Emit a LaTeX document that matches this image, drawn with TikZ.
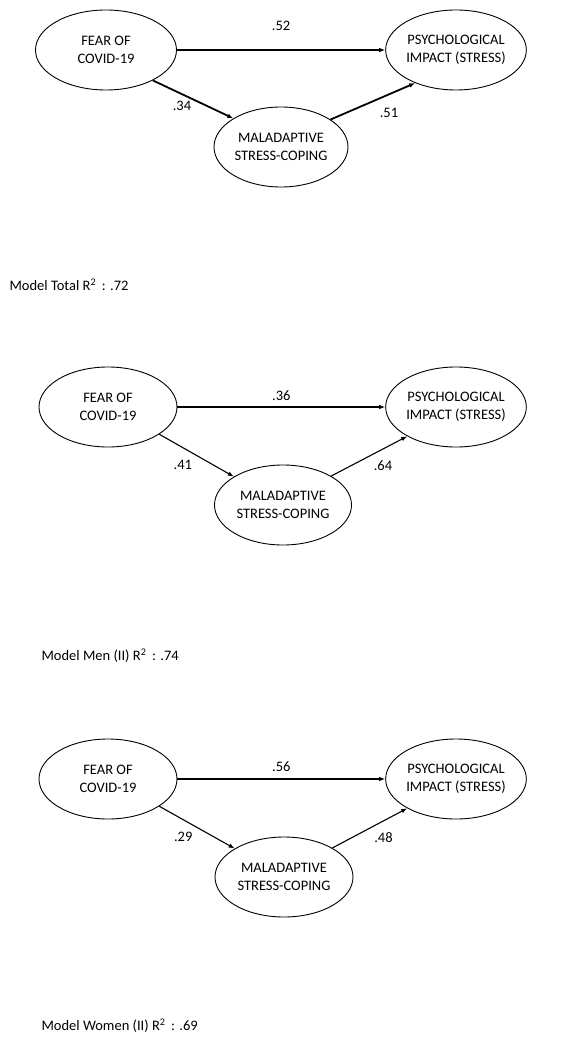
\documentclass[tikz,border=0pt]{standalone}
\usepackage{fontspec}
\setmainfont{Carlito}
\usetikzlibrary{arrows.meta,shapes.geometric}
\begin{document}
\begin{tikzpicture}[x=1pt,y=-1pt,>={Latex[length=6pt,width=4.5pt]},every node/.style={font=\fontsize{14.5}{18}\selectfont},
  latent/.style={draw,ellipse,line width=0.9pt,minimum height=80pt,inner sep=0pt,align=center},
  coef/.style={inner sep=1pt},
  link/.style={->,line width=1.1pt},
  boldlink/.style={->,line width=1.8pt}]
\useasboundingbox (0,0) rectangle (573,1040);
% total model
\node[latent,minimum width=141pt] (F1) at (106,50) {FEAR OF\\COVID-19};
\node[latent,minimum width=132pt] (P1) at (456,50) {PSYCHOLOGICAL\\IMPACT (STRESS)};
\node[latent,minimum width=134pt] (M1) at (281,147) {MALADAPTIVE\\STRESS-COPING};
\draw[boldlink] (F1.east) -- node[coef,above=17pt] {.52} (P1.west);
\draw[boldlink] (F1.-33) -- node[coef,below left=0pt] {.34} (M1.149);
\draw[boldlink] (M1.29) -- node[coef,below right=5pt] {.51} (P1.-141);
\node[anchor=west] (T1) at (6,285) {Model Total R\textsuperscript{2}\, : .72};
% men
\node[latent,minimum width=138pt] (F2) at (108,407) {FEAR OF\\COVID-19};
\node[latent,minimum width=132pt] (P2) at (456,407) {PSYCHOLOGICAL\\IMPACT (STRESS)};
\node[latent,minimum width=137pt] (M2) at (283,505) {MALADAPTIVE\\STRESS-COPING};
\draw[link] (F2.east) -- node[coef,above=5pt] {.36} (P2.west);
\draw[link] (F2.-28) -- node[coef,below left=3pt] {.41} (M2.150);
\draw[link] (M2.31) -- node[coef,below right=3pt] {.64} (P2.-149);
\node[anchor=west] (T2) at (38,656) {Model Men (II) R\textsuperscript{2}\, : .74};
% women
\node[latent,minimum width=138pt] (F3) at (108,779) {FEAR OF\\COVID-19};
\node[latent,minimum width=132pt] (P3) at (456,779) {PSYCHOLOGICAL\\IMPACT (STRESS)};
\node[latent,minimum width=138pt] (M3) at (284,877) {MALADAPTIVE\\STRESS-COPING};
\draw[link] (F3.east) -- node[coef,above=6pt] {.56} (P3.west);
\draw[link] (F3.-28) -- node[coef,below left=3pt] {.29} (M3.150);
\draw[link] (M3.31) -- node[coef,below right=3pt] {.48} (P3.-149);
\node[anchor=west] (T3) at (38,1026) {Model Women (II) R\textsuperscript{2}\, : .69};
\end{tikzpicture}
\end{document}
